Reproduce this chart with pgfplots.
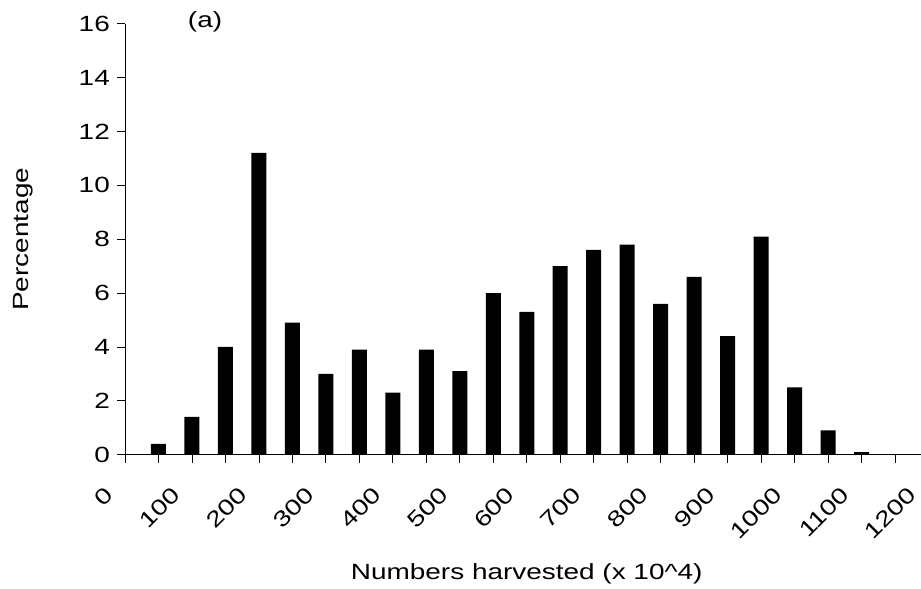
\documentclass[border=0pt]{standalone}
\usepackage{fontspec}
\setmainfont{Liberation Sans}[FakeStretch=1.27]
\usepackage{pgfplots}
\pgfplotsset{compat=1.18}

\begin{document}
\begin{tikzpicture}
\begin{axis}[
  scale only axis,
  width=803.5pt, height=431pt,
  xmin=0, xmax=1200, ymin=0, ymax=16,
  axis lines=left,
  axis line style={-, line width=0.8pt, black},
  clip=false,
  xtick={0,100,...,1200},
  minor xtick={50,150,...,1150},
  ytick={0,2,...,16},
  tick align=outside,
  major tick length=8pt, minor tick length=8pt,
  tick style={black, line width=0.8pt},
  /pgf/number format/assume math mode=true,
  /pgf/number format/1000 sep={},
  tick label style={font=\fontsize{22}{26}\selectfont},
  yticklabel style={anchor=east, inner sep=0pt, xshift=-7pt},
  xticklabel style={xshift=-16pt, yshift=-28pt, rotate=45, anchor=east, inner sep=0pt},
  label style={font=\fontsize{22}{26}\selectfont},
  xlabel={Numbers harvested (x 10\textasciicircum 4)},
  xlabel style={at={(axis description cs:0.5,-0.276)}, anchor=center},
  ylabel={Percentage},
  ylabel style={at={(axis description cs:-0.127,0.5)}, anchor=center, rotate=0},
]
% share of the catch in each 50-unit class
\addplot[ybar, bar width=22.4, fill=black, draw=none] coordinates {
  (50,0.4) (100,1.4) (150,4.0) (200,11.2) (250,4.9) (300,3.0)
  (350,3.9) (400,2.3) (450,3.9) (500,3.1) (550,6.0) (600,5.3)
  (650,7.0) (700,7.6) (750,7.8) (800,5.6) (850,6.6) (900,4.4)
  (950,8.1) (1000,2.5) (1050,0.9) (1100,0.1)
};
\node[font=\fontsize{22}{26}\selectfont, anchor=center] at (axis cs:119.5,16.07) {(a)};
\coordinate (bbSW) at (axis cs:-186.7,-4.97);
\coordinate (bbNE) at (axis cs:1188.8,16.88);
\end{axis}
\pgfresetboundingbox
\path[use as bounding box] (bbSW) rectangle (bbNE);
\end{tikzpicture}
\end{document}
